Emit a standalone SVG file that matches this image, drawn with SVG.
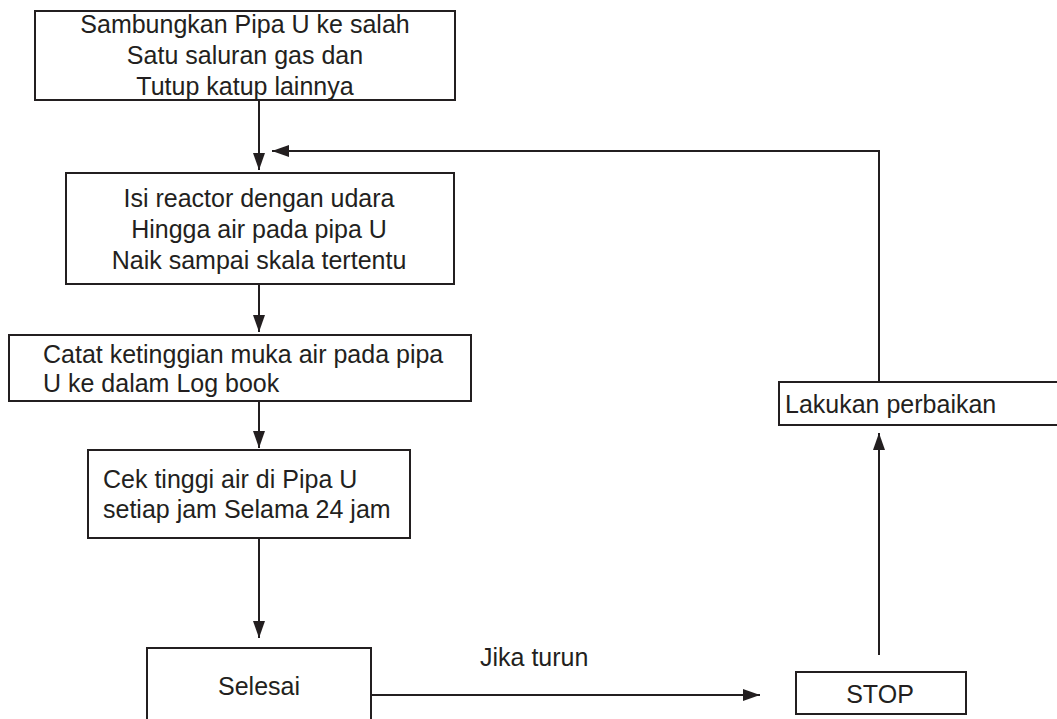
<svg xmlns="http://www.w3.org/2000/svg" width="1057" height="719" viewBox="0 0 1057 719">
<defs>
<style>
.box{fill:#fff;stroke:#231f20;stroke-width:2}
.t{font-family:"Liberation Sans",Arial,sans-serif;font-size:25px;fill:#231f20}
.c{text-anchor:middle}
.ln{fill:none;stroke:#231f20;stroke-width:2}
</style>
<marker id="ah" viewBox="0 0 17 12" refX="17" refY="6" markerWidth="17" markerHeight="12" markerUnits="userSpaceOnUse" orient="auto">
<path d="M0,0 L17,6 L0,12 z" fill="#231f20"/>
</marker>
</defs>
<rect width="1057" height="719" fill="#fff"/>
<g id="n1"><rect class="box" x="35" y="11" width="420" height="89"/>
<text class="t c" x="245" y="33">Sambungkan Pipa U ke salah</text>
<text class="t c" x="245" y="64">Satu saluran gas dan</text>
<text class="t c" x="245" y="95">Tutup katup lainnya</text></g>
<g id="n2"><rect class="box" x="66" y="173" width="388" height="111"/>
<text class="t c" x="259" y="207">Isi reactor dengan udara</text>
<text class="t c" x="259" y="238">Hingga air pada pipa U</text>
<text class="t c" x="259" y="269">Naik sampai skala tertentu</text></g>
<g id="n3"><rect class="box" x="9" y="335" width="462" height="66"/>
<text class="t" x="43" y="363">Catat ketinggian muka air pada pipa</text>
<text class="t" x="43" y="392">U ke dalam Log book</text></g>
<g id="n4"><rect class="box" x="88" y="450" width="322" height="88"/>
<text class="t" x="103" y="488">Cek tinggi air di Pipa U</text>
<text class="t" x="103" y="518">setiap jam Selama 24 jam</text></g>
<g id="n5"><rect class="box" x="147" y="648" width="224" height="90"/>
<text class="t c" x="259" y="695">Selesai</text></g>
<g id="n6"><rect class="box" x="796" y="672" width="170" height="42"/>
<text class="t c" x="880" y="703">STOP</text></g>
<g id="n7"><rect class="box" x="779" y="382" width="300" height="43"/>
<text class="t" x="785" y="413">Lakukan perbaikan</text></g>
<g id="connectors">
<line class="ln" x1="259" y1="100" x2="259" y2="170" marker-end="url(#ah)"/>
<line class="ln" x1="259" y1="284" x2="259" y2="332" marker-end="url(#ah)"/>
<line class="ln" x1="259" y1="401" x2="259" y2="448" marker-end="url(#ah)"/>
<line class="ln" x1="259" y1="538" x2="259" y2="638" marker-end="url(#ah)"/>
<line class="ln" x1="371" y1="695" x2="760" y2="695" marker-end="url(#ah)"/>
<line class="ln" x1="879" y1="655" x2="879" y2="433" marker-end="url(#ah)"/>
<polyline class="ln" points="879,382 879,151 272,151" marker-end="url(#ah)"/>
<text class="t" x="480" y="666">Jika turun</text>
</g>
</svg>
